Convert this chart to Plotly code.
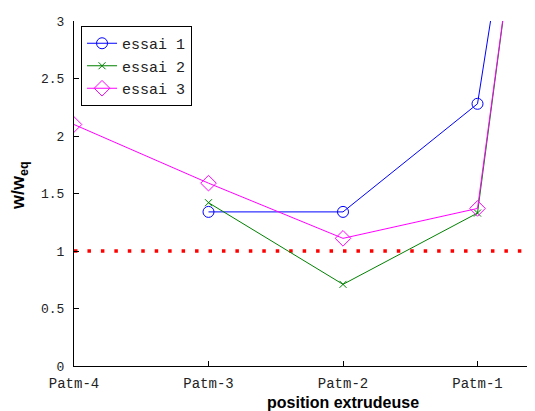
import plotly.graph_objects as go

positions = [1, 2, 3, 4, 5]
tick_labels = ["Patm-4", "Patm-3", "Patm-2", "Patm-1", "Patm"]
essai1 = [None, 1.34, 1.34, 2.28, 9.7]
essai2 = [None, 1.42, 0.71, 1.33, 10.2]
essai3 = [2.10, 1.59, 1.11, 1.37, 10.1]
ref_x = [1, 6]
ref_y = [1, 1]
y_ticks = [0, 0.5, 1, 1.5, 2, 2.5, 3]
y_tick_labels = ["0", "0.5", "1", "1.5", "2", "2.5", "3"]

mono = "Liberation Mono"
sans = "Liberation Sans"

fig = go.Figure()
fig.add_trace(go.Scatter(x=ref_x, y=ref_y, mode="lines", showlegend=False,
                         line=dict(color="red", width=3.5, dash="3.5px,9.95px"),
                         hoverinfo="skip"))
fig.add_trace(go.Scatter(x=positions, y=essai1, name="essai 1", mode="lines+markers",
                         line=dict(color="#0000ff", width=1),
                         marker=dict(symbol="circle-open", size=11, color="#0000ff",
                                     line=dict(width=1))))
fig.add_trace(go.Scatter(x=positions, y=essai2, name="essai 2", mode="lines+markers",
                         line=dict(color="#008000", width=1),
                         marker=dict(symbol="x-thin-open", size=7, color="#008000",
                                     line=dict(width=1, color="#008000"))))
fig.add_trace(go.Scatter(x=positions, y=essai3, name="essai 3", mode="lines+markers",
                         line=dict(color="#ff00ff", width=1),
                         marker=dict(symbol="diamond-open", size=12, color="#ff00ff",
                                     line=dict(width=1))))

fig.add_annotation(text="<b>position extrudeuse</b>", xref="x", yref="paper",
                   x=3, y=-0.107, xanchor="center", yanchor="middle", showarrow=False,
                   font=dict(family=sans, size=16, color="black"))
fig.add_annotation(text="<b>w/w<sub>eq</sub></b>", xref="paper", yref="paper",
                   x=-0.1173, y=0.5246, xanchor="center", yanchor="middle",
                   textangle=-90, showarrow=False,
                   font=dict(family=sans, size=18, color="black"))

fig.update_layout(
    width=535, height=411,
    margin=dict(l=66, r=0, t=13, b=53, autoexpand=False),
    paper_bgcolor="white", plot_bgcolor="white",
    font=dict(family=mono, size=13, color="#222"),
    legend=dict(x=0.015, y=0.9855, xanchor="left", yanchor="top",
                bordercolor="black", borderwidth=1, bgcolor="white",
                font=dict(family=mono, size=15, color="#222"),
                tracegroupgap=0),
    xaxis=dict(range=[1, 1 + 469 / 134.5], tickvals=positions, ticktext=tick_labels,
               automargin=False,
               showgrid=False, zeroline=False, showline=True, linecolor="black",
               linewidth=1, ticks="inside", ticklen=5, tickcolor="black",
               ticklabelstandoff=4,
               tickfont=dict(family=mono, size=14, color="#222")),
    yaxis=dict(range=[0, 3], tickvals=y_ticks, ticktext=y_tick_labels,
               automargin=False,
               showgrid=False, zeroline=False, showline=True, linecolor="black",
               linewidth=1, ticks="inside", ticklen=5, tickcolor="black",
               ticklabelstandoff=6,
               tickfont=dict(family=mono, size=13, color="#222")),
)

fig.write_html("out.html")
